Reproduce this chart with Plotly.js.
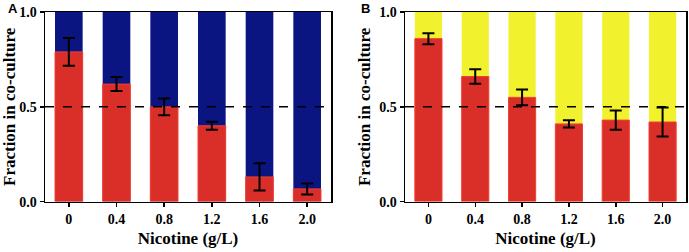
<!DOCTYPE html>
<html><head><meta charset="utf-8">
<script src="https://cdn.plot.ly/plotly-3.0.1.min.js"></script>
<style>html,body{margin:0;padding:0;background:#fff}#chart{width:689px;height:252px}</style>
</head><body><div id="chart"></div>
<script>
const categories = ["0", "0.4", "0.8", "1.2", "1.6", "2.0"];
const totalFraction = [1, 1, 1, 1, 1, 1];
const redA = [0.79, 0.62, 0.50, 0.40, 0.13, 0.067];
const errA = [0.073, 0.037, 0.044, 0.021, 0.072, 0.029];
const redB = [0.86, 0.66, 0.55, 0.41, 0.43, 0.42];
const errB = [0.029, 0.038, 0.042, 0.019, 0.051, 0.077];
const yTickVals = [0, 0.5, 1.0];
const yTickText = ["0.0", "0.5", "1.0"];
const refLine = 0.5;

const RED = '#d92f28', REDLINE = '#f04038', BLUE = '#0b1581', YELLOW = '#f1f12e';
const BW = 0.58;
const data = [
  {type:'bar', x:categories, y:totalFraction, xaxis:'x', yaxis:'y', marker:{color:BLUE, line:{width:0}}, width:BW, hoverinfo:'skip'},
  {type:'bar', x:categories, y:redA, xaxis:'x', yaxis:'y', marker:{color:RED, line:{color:REDLINE, width:1}}, width:BW,
   error_y:{type:'data', array:errA, visible:true, color:'#000', thickness:2, width:6}},
  {type:'bar', x:categories, y:totalFraction, xaxis:'x2', yaxis:'y2', marker:{color:YELLOW, line:{width:0}}, width:BW, hoverinfo:'skip'},
  {type:'bar', x:categories, y:redB, xaxis:'x2', yaxis:'y2', marker:{color:RED, line:{color:REDLINE, width:1}}, width:BW,
   error_y:{type:'data', array:errB, visible:true, color:'#000', thickness:2, width:6}}
];
const tickFont = {family:'Liberation Serif, Times New Roman, serif', size:14, color:'#000', weight:'bold'};
const titleFont = {family:'Liberation Serif, Times New Roman, serif', size:17, color:'#000', weight:'bold'};
function xax(dom, anchor){ return {domain:dom, anchor:anchor, type:'category', range:[-0.5,5.5], showline:true, mirror:true, linecolor:'#000', linewidth:1.5,
  ticks:'outside', ticklen:4, tickwidth:1.5, tickcolor:'#000', tickfont:tickFont, showgrid:false, zeroline:false, fixedrange:true,
  title:{text:'Nicotine (g/L)', font:titleFont, standoff:6}}; }
function yax(anchor){ return {domain:[0.2, 0.952], anchor:anchor, range:[0,1], showline:true, mirror:true, linecolor:'#000', linewidth:1.5,
  ticks:'outside', ticklen:4, tickwidth:1.5, tickcolor:'#000', tickvals:yTickVals, ticktext:yTickText, tickfont:tickFont,
  showgrid:false, zeroline:false, fixedrange:true, title:{text:'Fraction in co-culture', font:titleFont, standoff:4}}; }
const layout = {
  width:689, height:252, margin:{l:0, r:0, t:0, b:0}, paper_bgcolor:'#fff', plot_bgcolor:'#fff',
  barmode:'overlay', showlegend:false, bargap:0.42,
  xaxis: xax([45/689, 331/689], 'y'),
  yaxis: yax('x'),
  xaxis2: xax([405/689, 686/689], 'y2'),
  yaxis2: yax('x2'),
  shapes:[
    {type:'line', xref:'x domain', yref:'y', x0:0, x1:1, y0:refLine, y1:refLine, line:{color:'#000', width:1.5, dash:'dash'}},
    {type:'line', xref:'x2 domain', yref:'y2', x0:0, x1:1, y0:refLine, y1:refLine, line:{color:'#000', width:1.5, dash:'dash'}}
  ],
  annotations:[
    {text:'A', xref:'paper', yref:'paper', x:13/689, y:1-9/252, showarrow:false, xanchor:'center', yanchor:'middle', font:{family:'Liberation Sans, Arial, sans-serif', size:13, color:'#000', weight:'bold'}},
    {text:'B', xref:'paper', yref:'paper', x:365/689, y:1-8/252, showarrow:false, xanchor:'center', yanchor:'middle', font:{family:'Liberation Sans, Arial, sans-serif', size:13, color:'#000', weight:'bold'}}
  ]
};
Plotly.newPlot('chart', data, layout, {displayModeBar:false, staticPlot:true});
</script></body></html>
